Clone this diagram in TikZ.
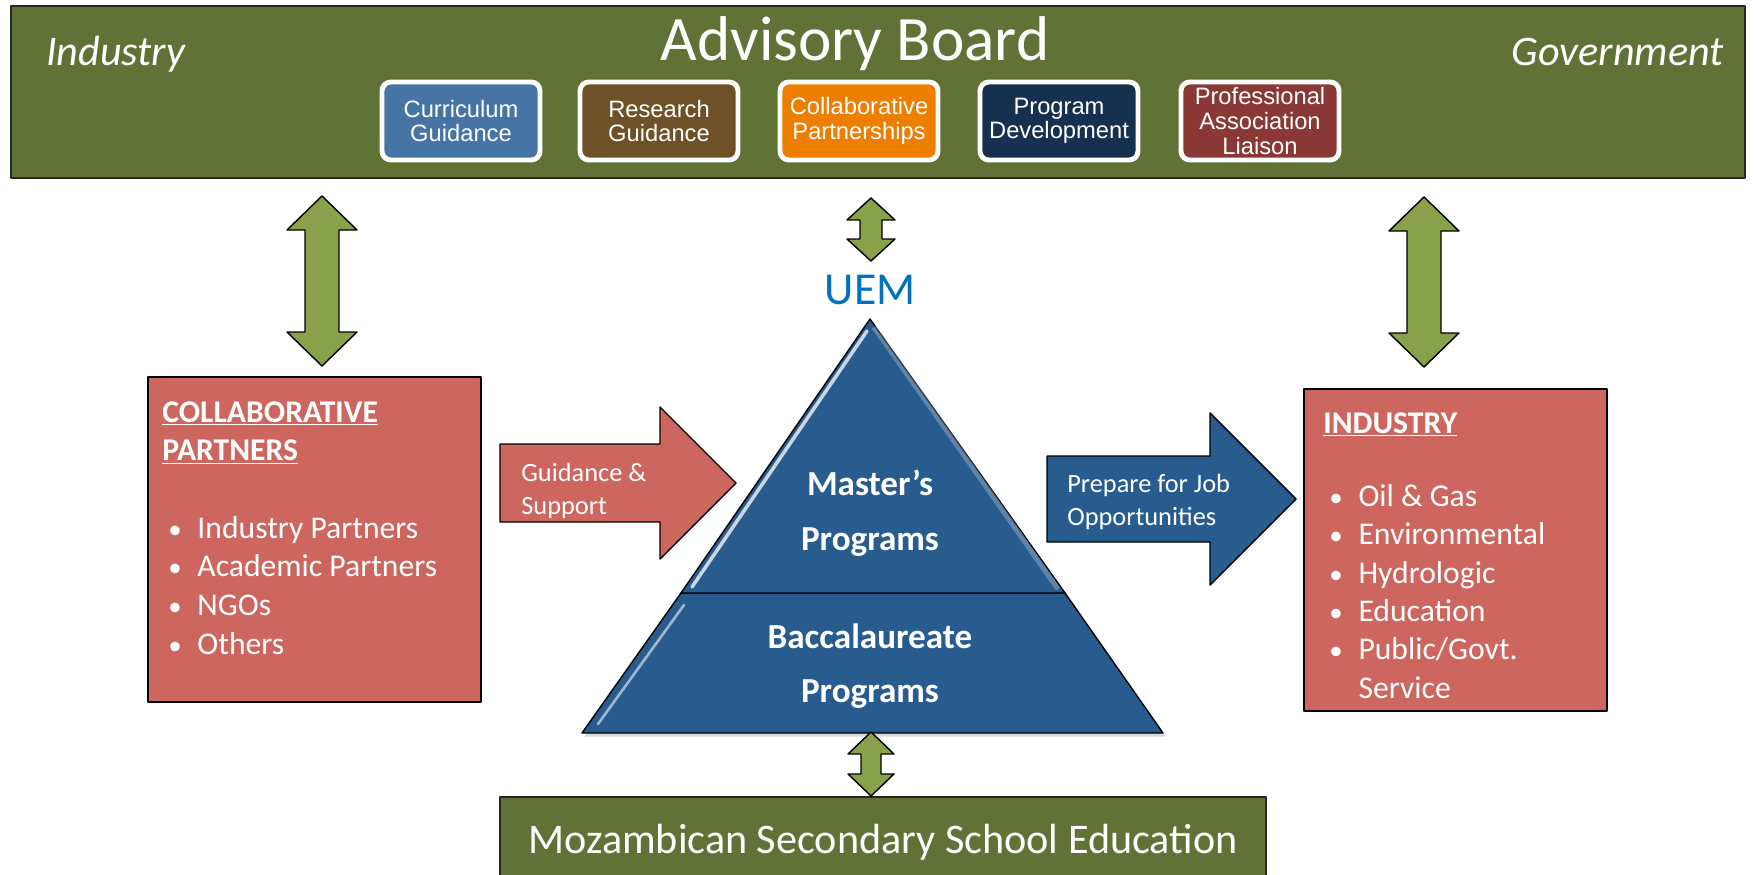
\documentclass[tikz,border=0pt]{standalone}
\usepackage{fontspec}
\setmainfont{Carlito}
\newfontfamily\arialfont{Liberation Sans}
\usetikzlibrary{calc,shadows}

% bullet with fixed indent
\newcommand{\bul}{\makebox[20pt][l]{\hspace{3.4pt}\scalebox{0.85}{\textbullet}}}

% vertical double arrow: top tip, bottom tip, head half width, shaft half width, head length
\newcommand{\vlink}[5]{%
  \draw[linkarrow] (#1) -- ($(#1)+(#3,#5)$) -- ($(#1)+(#4,#5)$)
    -- ($(#2)+(#4,-#5)$) -- ($(#2)+(#3,-#5)$) -- (#2)
    -- ($(#2)+(-#3,-#5)$) -- ($(#2)+(-#4,-#5)$)
    -- ($(#1)+(-#4,#5)$) -- ($(#1)+(-#3,#5)$) -- cycle;}

% fat right arrow: fill, tail middle, tip, shaft half height, head half height, head length
\newcommand{\flowarrow}[6]{%
  \draw[draw=black, line width=0.8pt, fill=#1] ($(#2)+(0,-#4)$) -- ($(#3)+(-#6,-#4)$)
    -- ($(#3)+(-#6,-#5)$) -- (#3) -- ($(#3)+(-#6,#5)$) -- ($(#3)+(-#6,#4)$)
    -- ($(#2)+(0,#4)$) -- cycle;}

\begin{document}
\begin{tikzpicture}[x=0.02cm, y=-0.02cm, line join=round,
  board/.style={draw=black!85, line width=1pt, fill=boardgreen, inner sep=0pt},
  duty/.style={rounded corners=5pt, draw=white, line width=2.8pt, text=white,
    align=center, inner sep=0pt, minimum width=3.16cm, minimum height=1.56cm,
    font=\arialfont\fontsize{13.5}{14}\selectfont},
  redbox/.style={draw=black, line width=1pt, fill=boxred, inner sep=0pt},
  boxtext/.style={anchor=north west, inner sep=0pt, align=left, text=white},
  linkarrow/.style={draw=black, line width=0.8pt, fill=linkgreen},
  tier/.style={draw=black, line width=0.8pt, fill=pyrblue},
  tierlabel/.style={text=white, align=center, font=\bfseries\fontsize{20}{31}\selectfont},
  arrowlabel/.style={anchor=west, inner sep=0pt, align=left, text=white,
    font=\fontsize{15}{18.5}\selectfont}]
  \definecolor{boardgreen}{RGB}{97,114,55}
  \definecolor{cgblue}{RGB}{70,116,165}
  \definecolor{rgbrown}{RGB}{110,81,38}
  \definecolor{cporange}{RGB}{237,126,0}
  \definecolor{pdnavy}{RGB}{22,49,79}
  \definecolor{parust}{RGB}{138,56,54}
  \definecolor{boxred}{RGB}{205,102,94}
  \definecolor{pyrblue}{RGB}{40,92,143}
  \definecolor{linkgreen}{RGB}{138,161,75}
  \definecolor{uemblue}{RGB}{0,112,192}
  \useasboundingbox (0,0) rectangle (1754,875);

  % advisory board banner
  \node[board, minimum width=34.68cm, minimum height=3.44cm] (board) at (878,92) {};
  \node[anchor=base, text=white, font=\fontsize{36}{40}\selectfont] (title) at (855,61) {Advisory Board};
  \node[anchor=base west, text=white, font=\itshape\fontsize{24}{28}\selectfont] (industry) at (40,66) {Industry};
  \node[anchor=base east, text=white, font=\itshape\fontsize{24}{28}\selectfont] (government) at (1730,66) {Government};
  \node[duty, fill=cgblue] (cg) at (461,121) {Curriculum\\Guidance};
  \node[duty, fill=rgbrown] (rg) at (659,121) {Research\\Guidance};
  \node[duty, fill=cporange] (cp) at (859,121) {Collaborative\\Partnerships};
  \node[duty, fill=pdnavy] (pd) at (1059,121) {Program\\Development};
  \node[duty, fill=parust] (pa) at (1260,121) {Professional\\Association\\Liaison};

  % partner and industry boxes
  \node[redbox, minimum width=6.66cm, minimum height=6.5cm] (partners) at (314.5,539.5) {};
  \node[boxtext, font=\fontsize{18}{22}\selectfont] (partners text) at (162,401)
    {\textbf{\underline{COLLABORATIVE}}\\ \textbf{\underline{PARTNERS}}\\[22pt]
     \bul Industry Partners\\ \bul Academic Partners\\ \bul NGOs\\ \bul Others};
  \node[redbox, minimum width=6.06cm, minimum height=6.44cm] (jobs) at (1455.5,550) {};
  \node[boxtext, font=\fontsize{18}{21.8}\selectfont] (jobs text) at (1323,412)
    {\textbf{\underline{INDUSTRY}}\\[20pt]
     \bul Oil \& Gas\\ \bul Environmental\\ \bul Hydrologic\\ \bul Education\\
     \bul Public/Govt.\\ \hspace*{20pt}Service};

  % pyramid
  \draw[tier, drop shadow={opacity=0.3, shadow xshift=1.5pt, shadow yshift=-2pt}]
    (681,593) -- (1065,593) -- (1163,733) -- (582,733) -- cycle;
  \draw[tier] (870,319) -- (1065,593) -- (681,593) -- cycle;
  \draw[pyrblue!25!white, line width=2pt, line cap=round] (867,331) -- (692,587);
  \draw[pyrblue!45!white, line width=1.5pt, line cap=round] (684,605) -- (598,724);
  \draw[white, opacity=0.25, line width=3pt] (874,327) -- (1058,589);
  \node[text=uemblue, font=\fontsize{26}{30}\selectfont] (uem) at (870,290) {UEM};
  \node[tierlabel] (masters) at (870,513) {Master’s\\Programs};
  \node[tierlabel] (bacc) at (870,666) {Baccalaureate\\Programs};

  % secondary school
  \node[board, minimum width=15.32cm, minimum height=1.8cm, text=white,
    font=\fontsize{24}{28}\selectfont] (school) at (883,842) {Mozambican Secondary School Education};

  % connectors
  \coordinate (partners up) at (322,196);
  \coordinate (partners down) at (322,366);
  \coordinate (jobs up) at (1424,197);
  \coordinate (jobs down) at (1424,367);
  \coordinate (uem up) at (871,198);
  \coordinate (uem down) at (871,261);
  \coordinate (school up) at (871,732);
  \coordinate (school down) at (871,796);
  \vlink{partners up}{partners down}{35}{17}{34}
  \vlink{jobs up}{jobs down}{35}{17}{34}
  \vlink{uem up}{uem down}{24}{11}{22}
  \vlink{school up}{school down}{23}{10}{22}

  \coordinate (gs tail) at (500,483);
  \coordinate (gs tip) at (736,483);
  \coordinate (job tail) at (1047,499);
  \coordinate (job tip) at (1296,499);
  \flowarrow{boxred}{gs tail}{gs tip}{39}{76}{76}
  \flowarrow{pyrblue}{job tail}{job tip}{43}{86}{86}
  \node[arrowlabel] (gs label) at (521,491) {Guidance \&\\Support};
  \node[arrowlabel] (job label) at (1067,502) {Prepare for Job\\Opportunities};
\end{tikzpicture}
\end{document}
